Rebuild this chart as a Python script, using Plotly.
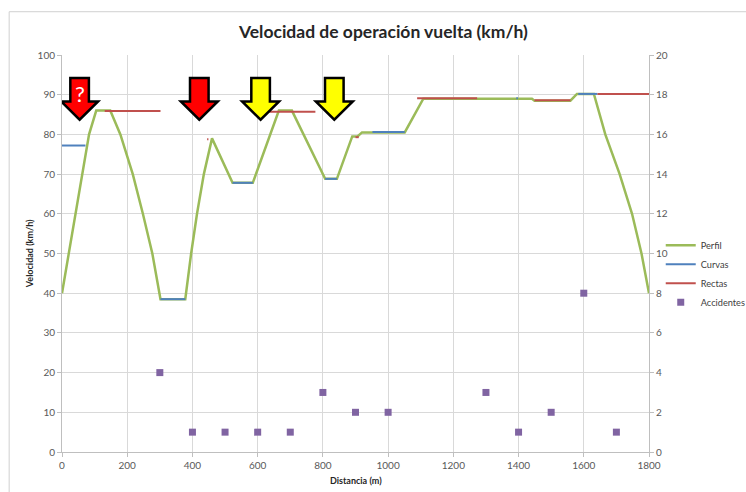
import plotly.graph_objects as go

# ---- data ----
perfil_x = [0, 21, 62, 83, 105, 148, 179, 217, 248, 277, 302, 378, 396, 414, 435, 460,
            523, 585, 665, 705, 807, 843, 890, 906, 920, 1051, 1108, 1441, 1449, 1559,
            1579, 1631, 1666, 1710, 1748, 1777, 1800]
perfil_y = [40, 50, 70, 80, 86, 86, 80, 70, 60, 50, 38.5, 38.5, 50, 60, 70, 79,
            67.8, 67.8, 86, 86, 68.8, 68.8, 79.5, 79.5, 80.5, 80.5, 89, 89, 88.5, 88.5,
            90.2, 90.2, 80, 70, 60, 50, 40]

curvas_x = [0, 72, None, 302, 378, None, 523, 585, None, 807, 843, None, 952, 1051, None,
            1393, 1398, None, 1583, 1642]
curvas_y = [77.2, 77.2, None, 38.5, 38.5, None, 67.8, 67.8, None, 68.8, 68.8, None, 80.6, 80.6, None,
            89.1, 89.1, None, 90.2, 90.2]

rectas_x = [131, 302, None, 445, 449, None, 636, 777, None, 900, 910, None, 1089, 1273, None,
            1449, 1559, None, 1642, 1800]
rectas_y = [85.9, 85.9, None, 78.8, 78.8, None, 85.7, 85.7, None, 79.3, 79.3, None, 89.1, 89.1, None,
            88.6, 88.6, None, 90.2, 90.2]

acc_x = [300, 400, 500, 600, 700, 800, 900, 1000, 1300, 1400, 1500, 1600, 1700]
acc_y = [4, 1, 1, 1, 1, 3, 2, 2, 3, 1, 2, 8, 1]

arrow_x = [54, 421, 609, 835]
arrow_colors = ["#FF0000", "#FF0000", "#FFFF00", "#FFFF00"]

# ---- figure ----
GREEN = "#9BBB59"
BLUE = "#4F81BD"
RED = "#C0504D"
PURPLE = "#8064A2"
FONT = "Lato"

fig = go.Figure()
fig.add_trace(go.Scatter(x=perfil_x, y=perfil_y, mode="lines", name="Perfil",
                         line=dict(color=GREEN, width=2.5)))
fig.add_trace(go.Scatter(x=curvas_x, y=curvas_y, mode="lines", name="Curvas",
                         line=dict(color=BLUE, width=2), connectgaps=False))
fig.add_trace(go.Scatter(x=rectas_x, y=rectas_y, mode="lines", name="Rectas",
                         line=dict(color=RED, width=2), connectgaps=False))
fig.add_trace(go.Scatter(x=acc_x, y=acc_y, mode="markers", name="Accidentes", yaxis="y2",
                         marker=dict(symbol="square", color=PURPLE, size=7)))

shapes = []
hs, hh = 28.5, 56.6
top, base, tip = 94.2, 88.3, 83.7
for cx, col in zip(arrow_x, arrow_colors):
    path = (f"M {cx-hs},{top} L {cx+hs},{top} L {cx+hs},{base} L {cx+hh},{base} "
            f"L {cx},{tip} L {cx-hh},{base} L {cx-hs},{base} Z")
    shapes.append(dict(type="path", path=path, xref="x", yref="y",
                       fillcolor=col, line=dict(color="black", width=2.5), layer="above"))

# chart border
shapes.append(dict(type="rect", xref="paper", yref="paper", x0=-0.09, x1=1.2, y0=-0.2, y1=1.109,
                   line=dict(color="#D0D0D0", width=1), fillcolor="rgba(0,0,0,0)", layer="below"))

tickfont = dict(family=FONT, size=10, color="#595959")
axis_common = dict(showline=True, linecolor="#BFBFBF", linewidth=1, ticks="outside",
                   ticklen=4, tickcolor="#BFBFBF", tickfont=tickfont, zeroline=False,
                   automargin=False)

title_font = dict(family=FONT, size=9, color="#262626")

fig.update_layout(
    width=746, height=492,
    margin=dict(l=62, r=97, t=55, b=40, autoexpand=False),
    paper_bgcolor="white", plot_bgcolor="white",
    font=dict(family=FONT, color="#404040"),
    title=dict(text="<b>Velocidad de operación vuelta (km/h)</b>", x=0.514, xanchor="center",
               y=0.935, yanchor="middle", font=dict(family=FONT, size=17.5, color="#262626")),
    xaxis=dict(range=[0, 1800], tickvals=list(range(0, 1801, 200)), showgrid=True,
               gridcolor="#D9D9D9", gridwidth=1, **axis_common),
    yaxis=dict(range=[0, 100], tickvals=list(range(0, 101, 10)), showgrid=True,
               gridcolor="#D9D9D9", gridwidth=1, **axis_common),
    yaxis2=dict(range=[0, 20], tickvals=list(range(0, 21, 2)), overlaying="y", side="right",
                showgrid=False, **axis_common),
    legend=dict(x=1.02, xanchor="left", y=0.557, yanchor="top",
                font=dict(family=FONT, size=9.2, color="#404040"),
                itemwidth=30, bgcolor="rgba(0,0,0,0)", tracegroupgap=0),
    shapes=shapes,
    annotations=[
        dict(text="?", x=arrow_x[0], y=90.3, xref="x", yref="y", showarrow=False,
             font=dict(family=FONT, size=22, color="white")),
        dict(text="<b>Distancia (m)</b>", x=0.5, xref="paper", y=-0.072, yref="paper",
             yanchor="middle", showarrow=False, font=title_font),
        dict(text="<b>Velocidad (km/h)</b>", x=-0.055, xref="paper", y=0.5, yref="paper",
             xanchor="center", textangle=-90, showarrow=False, font=title_font),
    ],
)

fig.write_html("out.html", config={"displayModeBar": False},
               post_script="document.body.style.margin='0';")
